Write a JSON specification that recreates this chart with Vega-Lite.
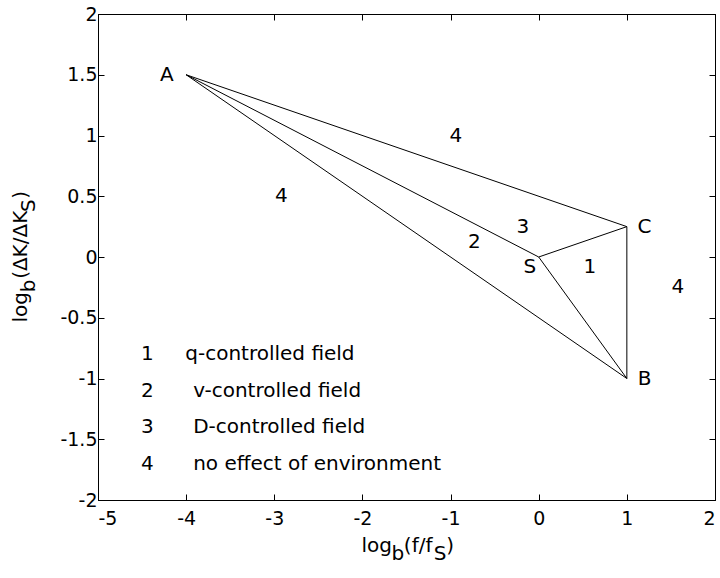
{
  "$schema": "https://vega.github.io/schema/vega-lite/v6.json",
  "width": 617,
  "height": 486,
  "autosize": {"type": "none"},
  "padding": {"left": 98, "top": 14, "right": 5, "bottom": 78},
  "background": "white",
  "config": {
    "view": {"stroke": "black", "strokeWidth": 1},
    "font": "DejaVu Sans",
    "axis": {
      "grid": false,
      "domainColor": "black",
      "tickColor": "black",
      "tickSize": -6,
      "labelFont": "DejaVu Sans",
      "labelFontSize": 19,
      "labelColor": "black",
      "format": "~g",
      "labelExpr": "replace(datum.label, '−', '-')"
    },
    "text": {"font": "DejaVu Sans", "fontSize": 20, "color": "black"}
  },
  "datasets": {
    "segments": [
      {"seg": "A-C", "x": -4, "y": 1.5, "x2": 1, "y2": 0.25},
      {"seg": "A-S", "x": -4, "y": 1.5, "x2": 0, "y2": 0},
      {"seg": "A-B", "x": -4, "y": 1.5, "x2": 1, "y2": -1},
      {"seg": "S-C", "x": 0, "y": 0, "x2": 1, "y2": 0.25},
      {"seg": "S-B", "x": 0, "y": 0, "x2": 1, "y2": -1},
      {"seg": "C-B", "x": 1, "y": 0.25, "x2": 1, "y2": -1}
    ],
    "labels": [
      {"x": -4.22, "y": 1.5, "t": "A"},
      {"x": 1.2, "y": 0.25, "t": "C"},
      {"x": 1.2, "y": -1.0, "t": "B"},
      {"x": -0.1, "y": -0.08, "t": "S"},
      {"x": 0.58, "y": -0.08, "t": "1"},
      {"x": -0.73, "y": 0.12, "t": "2"},
      {"x": -0.18, "y": 0.25, "t": "3"},
      {"x": -0.94, "y": 1.0, "t": "4"},
      {"x": -2.92, "y": 0.5, "t": "4"},
      {"x": 1.58, "y": -0.25, "t": "4"},
      {"x": -4.44, "y": -0.8, "t": "1"},
      {"x": -4.44, "y": -1.1, "t": "2"},
      {"x": -4.44, "y": -1.4, "t": "3"},
      {"x": -4.44, "y": -1.7, "t": "4"}
    ],
    "legendText": [
      {"x": -4.01, "y": -0.8, "t": "q-controlled field"},
      {"x": -3.92, "y": -1.1, "t": "v-controlled field"},
      {"x": -3.92, "y": -1.4, "t": "D-controlled field"},
      {"x": -3.92, "y": -1.7, "t": "no effect of environment"}
    ],
    "xTitleMain": [
      {"x": -2.01, "y": -2.43, "t": "log"},
      {"x": -1.53, "y": -2.43, "t": "(f/f"},
      {"x": -1.05, "y": -2.43, "t": ")"}
    ],
    "xTitleSub": [
      {"x": -1.67, "y": -2.43, "t": "b"},
      {"x": -1.19, "y": -2.43, "t": "S"}
    ],
    "yTitleMain": [
      {"x": -5.81, "y": -0.54, "t": "log"},
      {"x": -5.81, "y": -0.18, "t": "(ΔK/ΔK"},
      {"x": -5.81, "y": 0.48, "t": ")"}
    ],
    "yTitleSub": [
      {"x": -5.81, "y": -0.29, "t": "b"},
      {"x": -5.81, "y": 0.37, "t": "S"}
    ]
  },
  "resolve": {"axis": {"x": "independent", "y": "independent"}},
  "layer": [
    {
      "data": {"name": "segments"},
      "mark": {"type": "rule", "color": "black", "strokeWidth": 1},
      "encoding": {
        "x": {"field": "x", "type": "quantitative",
              "scale": {"domain": [-5, 2], "nice": false, "zero": false},
              "axis": {"orient": "bottom", "values": [-5, -4, -3, -2, -1, 0, 1, 2], "title": null, "labelPadding": 15}},
        "y": {"field": "y", "type": "quantitative",
              "scale": {"domain": [-2, 2], "nice": false, "zero": false},
              "axis": {"orient": "left", "values": [-2, -1.5, -1, -0.5, 0, 0.5, 1, 1.5, 2], "title": null, "labelPadding": 7}},
        "x2": {"field": "x2"},
        "y2": {"field": "y2"}
      }
    },
    {
      "data": {"name": "labels"},
      "mark": {"type": "text", "align": "center", "baseline": "middle"},
      "encoding": {
        "x": {"field": "x", "type": "quantitative",
              "axis": {"orient": "top", "values": [-5, -4, -3, -2, -1, 0, 1, 2], "title": null, "labels": false, "domain": true, "ticks": true, "tickSize": -6, "tickColor": "black"}},
        "y": {"field": "y", "type": "quantitative",
              "axis": {"orient": "right", "values": [-2, -1.5, -1, -0.5, 0, 0.5, 1, 1.5, 2], "title": null, "labels": false, "domain": true, "ticks": true, "tickSize": -6, "tickColor": "black"}},
        "text": {"field": "t"}
      }
    },
    {
      "data": {"name": "legendText"},
      "mark": {"type": "text", "align": "left", "baseline": "middle"},
      "encoding": {
        "x": {"field": "x", "type": "quantitative", "axis": null},
        "y": {"field": "y", "type": "quantitative", "axis": null},
        "text": {"field": "t"}
      }
    },
    {
      "data": {"name": "xTitleMain"},
      "mark": {"type": "text", "align": "left", "baseline": "alphabetic"},
      "encoding": {
        "x": {"field": "x", "type": "quantitative", "axis": null},
        "y": {"field": "y", "type": "quantitative", "axis": null},
        "text": {"field": "t"}
      }
    },
    {
      "data": {"name": "xTitleSub"},
      "mark": {"type": "text", "align": "left", "baseline": "alphabetic", "dy": 8},
      "encoding": {
        "x": {"field": "x", "type": "quantitative", "axis": null},
        "y": {"field": "y", "type": "quantitative", "axis": null},
        "text": {"field": "t"}
      }
    },
    {
      "data": {"name": "yTitleMain"},
      "mark": {"type": "text", "align": "left", "baseline": "alphabetic", "angle": 270},
      "encoding": {
        "x": {"field": "x", "type": "quantitative", "axis": null},
        "y": {"field": "y", "type": "quantitative", "axis": null},
        "text": {"field": "t"}
      }
    },
    {
      "data": {"name": "yTitleSub"},
      "mark": {"type": "text", "align": "left", "baseline": "alphabetic", "angle": 270, "dy": 8},
      "encoding": {
        "x": {"field": "x", "type": "quantitative", "axis": null},
        "y": {"field": "y", "type": "quantitative", "axis": null},
        "text": {"field": "t"}
      }
    }
  ]
}
